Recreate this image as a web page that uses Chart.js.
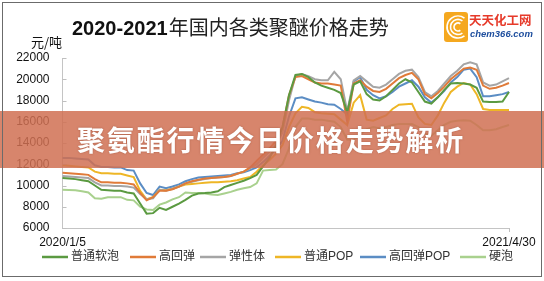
<!DOCTYPE html>
<html><head><meta charset="utf-8">
<script src="https://cdn.jsdelivr.net/npm/chart.js@4.4.1/dist/chart.umd.min.js"></script>
<style>html,body{margin:0;padding:0;background:#fff;}#wrap{width:544px;height:281px;position:relative;}</style>
</head><body><div id="wrap"><canvas id="c" width="544" height="281"></canvas></div>
<script>
const categories = [
 '2020/1/5','2020/1/12','2020/1/19','2020/1/26','2020/2/2','2020/2/9','2020/2/16','2020/2/23','2020/3/1','2020/3/8',
 '2020/3/15','2020/3/22','2020/3/29','2020/4/5','2020/4/12','2020/4/19','2020/4/26','2020/5/3','2020/5/10','2020/5/17',
 '2020/5/24','2020/5/31','2020/6/7','2020/6/14','2020/6/21','2020/6/28','2020/7/5','2020/7/12','2020/7/19','2020/7/26',
 '2020/8/2','2020/8/9','2020/8/16','2020/8/23','2020/8/30','2020/9/6','2020/9/13','2020/9/20','2020/9/27','2020/10/4',
 '2020/10/11','2020/10/18','2020/10/25','2020/11/1','2020/11/8','2020/11/15','2020/11/22','2020/11/29','2020/12/6','2020/12/13',
 '2020/12/20','2020/12/27','2021/1/3','2021/1/10','2021/1/17','2021/1/24','2021/1/31','2021/2/7','2021/2/14','2021/2/21',
 '2021/2/28','2021/3/7','2021/3/14','2021/3/21','2021/3/28','2021/4/4','2021/4/11','2021/4/18','2021/4/25','2021/4/30'];

const softFoam = [10700,10650,10600,10500,10400,10000,9600,9550,9500,9500,
 9350,9250,8300,7350,7400,7900,7700,8000,8300,8650,
 9050,9250,9290,9350,9450,9850,10050,10250,10450,10700,
 11000,11800,12600,13800,15500,18500,20400,20500,20200,19700,
 19400,19200,19000,18700,16900,19500,19800,18600,18100,18000,
 18400,19000,19600,20000,19700,18800,17900,17700,18300,19000,
 19600,19650,19600,19500,19200,17900,17850,17850,17900,18800];
const highResilience = [11200,11150,11100,11050,11000,10600,10300,10300,10250,10250,
 10200,10100,9300,8600,8900,9500,9500,9650,9900,10200,
 10400,10550,10650,10700,10750,10800,10900,11100,11300,11700,
 12300,12900,13500,14200,15500,18500,20200,20300,20000,19700,
 19600,19600,19500,19400,16000,19600,19900,19300,18900,18800,
 19100,19600,20100,20400,20600,20000,18600,18200,18700,19300,
 20000,20500,21000,21100,20900,19400,19100,19200,19400,19650];
const elastomer = [10900,10850,10800,10750,10700,10300,10000,10000,9950,9950,
 9900,9800,9200,8700,8800,9600,9500,9700,9900,10200,
 10350,10500,10600,10700,10750,10800,10900,11100,11300,11600,
 12000,12600,13200,13900,15000,18000,20300,20500,20300,20000,
 19900,19900,20700,20000,17000,19900,20300,19800,19300,19200,
 19500,20000,20500,20800,20900,20200,18800,18400,18900,19600,
 20300,20800,21400,21600,21400,19700,19400,19500,19800,20100];
const normalPOP = [11900,11850,11800,11750,11700,11300,11150,11150,11100,11100,
 10950,10800,9500,8700,8900,9600,9550,9700,9900,10100,
 10150,10200,10250,10300,10300,10350,10400,10500,10650,10800,
 11300,11900,12400,13000,13800,15500,16800,17400,17300,16900,
 16800,16750,16700,16200,15700,17800,18500,16200,16100,16350,
 16600,17200,17600,17650,17700,16400,15800,15700,16600,17800,
 18800,19300,19650,19500,18600,17200,17100,17100,17100,17100];
const highResPOP = [12600,12600,12550,12500,12450,11900,11750,11750,11700,11700,
 11450,11400,10200,9300,9100,9900,9750,9900,10100,10400,
 10600,10750,10800,10850,10900,10950,11000,11150,11250,11450,
 11700,12200,12800,13400,14200,16500,18200,18300,18100,17900,
 17800,17650,17600,17200,16700,19800,20200,19000,18500,18200,
 18400,18800,19300,19600,19900,19300,18300,17800,18300,18900,
 19700,20200,20900,21000,20200,18400,18400,18500,18600,18800];
const rigidFoam = [9600,9580,9550,9450,9350,8800,8750,8900,8900,8900,
 8650,8600,8000,7750,7700,8200,8400,8700,8900,9350,
 9300,9300,9250,9150,9100,9250,9400,9600,9750,9850,
 10200,11400,11450,11500,12000,13500,15500,16300,16300,16200,
 16200,16100,16000,15500,14300,14300,14800,15300,15500,15400,
 15500,15700,15800,15800,15800,15500,14900,14700,15200,15700,
 16000,16100,16150,16100,15700,15200,15200,15300,15500,15700];

const seriesNames = ['普通软泡','高回弹','弹性体','普通POP','高回弹POP','硬泡'];
const seriesColors = ['#5b9a41','#e07b39','#a5a5a5','#eeb626','#5b8dc4','#a9d18e'];
const yTicks = [6000,8000,10000,12000,14000,16000,18000,20000,22000];
const unitLabel = '元/吨';
const titleNum = '2020-2021';
const titleText = '年国内各类聚醚价格走势';
const bannerText = '聚氨酯行情今日价格走势解析';
const legendX = [42,130,200,275,360,460];

const values = [softFoam, highResilience, elastomer, normalPOP, highResPOP, rigidFoam];

const overlay = {
  id:'overlay',
  afterDraw(chart){
    const ctx = chart.ctx, ca = chart.chartArea, ys = chart.scales.y;
    ctx.save();
    ctx.strokeStyle = '#bfbfbf'; ctx.lineWidth = 1;
    yTicks.forEach(v => { const y = Math.round(ys.getPixelForValue(v)) + 0.5;
      ctx.beginPath(); ctx.moveTo(ca.left, y); ctx.lineTo(ca.left + 4, y); ctx.stroke(); });
    const rx = Math.round(ca.right) + 0.5;
    ctx.beginPath(); ctx.moveTo(rx, ca.bottom); ctx.lineTo(rx, ca.bottom + 4); ctx.stroke();
    // unit
    ctx.fillStyle = '#111'; ctx.font = '13px "Noto Sans CJK SC"';
    ctx.textAlign = 'right'; ctx.textBaseline = 'middle';
    ctx.fillText(unitLabel, 62, 42);
    // title
    ctx.textAlign = 'left'; ctx.textBaseline = 'alphabetic';
    ctx.font = 'bold 20px "Liberation Sans"'; ctx.fillStyle = '#111';
    ctx.fillText(titleNum, 72, 35);
    const w = ctx.measureText(titleNum).width;
    ctx.font = '20px "Noto Sans CJK SC"'; ctx.fillStyle = '#222';
    ctx.fillText(titleText, 72 + w + 1, 35);
    // legend
    ctx.textBaseline = 'middle';
    ctx.font = '12px "Liberation Sans","Noto Sans CJK SC"';
    chart.data.datasets.forEach((ds, i) => {
      const x = legendX[i], y = 257;
      ctx.strokeStyle = ds.borderColor; ctx.lineWidth = 2.5;
      ctx.beginPath(); ctx.moveTo(x, y); ctx.lineTo(x + 26, y); ctx.stroke();
      ctx.fillStyle = '#333'; ctx.fillText(ds.label, x + 29, y);
    });
    // banner
    ctx.fillStyle = 'rgba(208,112,82,0.85)';
    ctx.fillRect(0, 111, 544, 57);
    ctx.font = 'bold 28px "Noto Sans CJK SC"'; ctx.fillStyle = '#fff';
    ctx.textBaseline = 'middle'; ctx.textAlign = 'left';
    ctx.shadowColor = 'rgba(120,50,30,0.5)'; ctx.shadowBlur = 2;
    [...bannerText].forEach((ch, i) => ctx.fillText(ch, 77 + i * 29.85, 140));
    ctx.shadowBlur = 0; ctx.shadowColor = 'transparent';
    // logo
    ctx.fillStyle = '#f5a81f';
    ctx.beginPath(); ctx.roundRect(444, 12, 24, 30, 3); ctx.fill();
    ctx.strokeStyle = '#fff'; ctx.lineWidth = 1.6;
    [4, 7.5, 11].forEach(r => { ctx.beginPath(); ctx.arc(458, 27, r, 0.3 * Math.PI, 1.7 * Math.PI); ctx.stroke(); });
    ctx.font = 'bold 12.5px "Noto Sans CJK SC"'; ctx.fillStyle = '#e63a2a';
    ctx.textBaseline = 'middle';
    ctx.fillText('天天化工网', 469, 20);
    ctx.font = 'italic bold 9.5px "Liberation Sans"'; ctx.fillStyle = '#1f4f9e';
    ctx.fillText('chem366.com', 470, 34);
    // frame
    ctx.strokeStyle = '#6b6b6b'; ctx.lineWidth = 1;
    ctx.strokeRect(2.5, 2.5, 539, 274);
    ctx.restore();
  }
};

Chart.defaults.font.family = '"Liberation Sans","Noto Sans CJK SC"';
new Chart(document.getElementById('c'), {
  type: 'line',
  data: {
    labels: categories,
    datasets: seriesNames.map((n, i) => ({
      label: n, data: values[i], borderColor: seriesColors[i], backgroundColor: seriesColors[i],
      borderWidth: 2, pointRadius: 0, tension: 0, fill: false
    }))
  },
  options: {
    responsive: false, animation: false,
    layout: { padding: { left: 10, right: 35, top: 58, bottom: 31 } },
    plugins: { legend: { display: false }, tooltip: { enabled: false } },
    scales: {
      x: {
        offset: false,
        grid: { display: false, drawTicks: false },
        border: { display: true, color: '#c4c4c4', width: 1 },
        ticks: { autoSkip: false, maxRotation: 0, minRotation: 0, padding: 7, color: '#111',
          font: { size: 12 },
          callback: function(v, i) { return (i === 0 || i === categories.length - 1) ? categories[i] : ''; } },
        afterFit: s => { s.height = 22; }
      },
      y: {
        min: 6000, max: 22000,
        grid: { display: false, drawTicks: false },
        border: { display: true, color: '#c4c4c4', width: 1 },
        afterBuildTicks: s => { s.ticks = yTicks.map(v => ({ value: v })); },
        ticks: { padding: 13, color: '#111', font: { size: 12 }, callback: v => String(v) },
        afterFit: s => { s.width = 52.5; }
      }
    }
  },
  plugins: [overlay]
});
</script></body></html>
